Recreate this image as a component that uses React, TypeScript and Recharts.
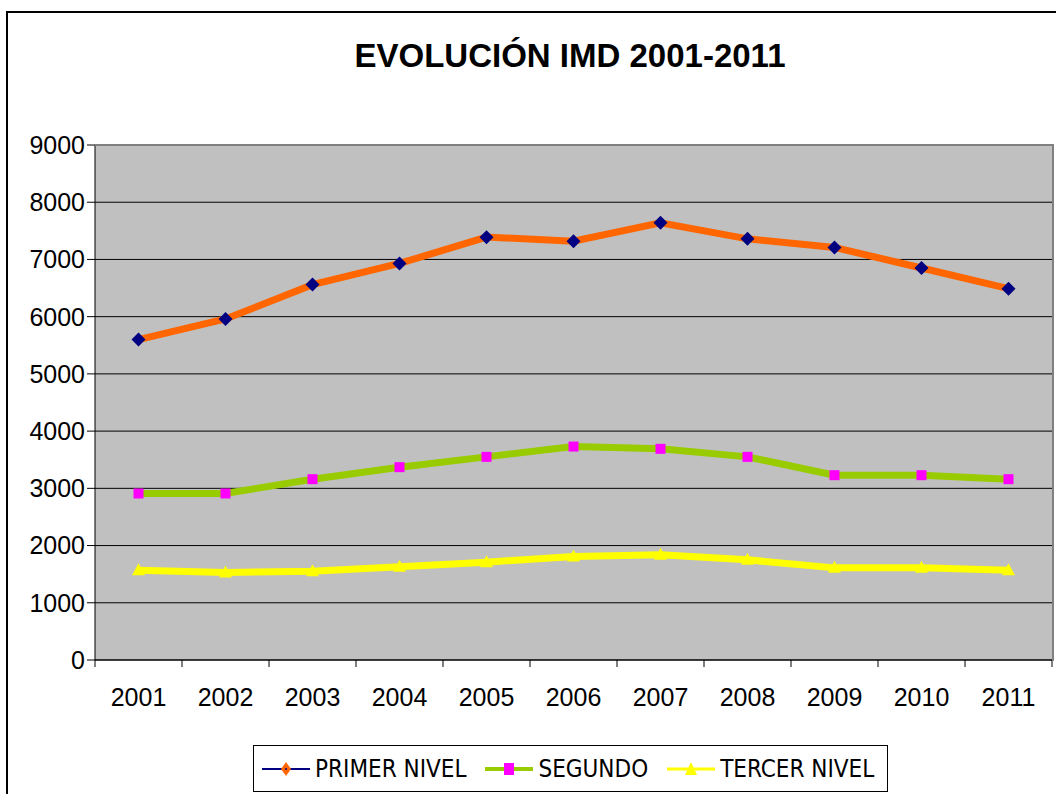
import React from "react";
import { LineChart, Line, XAxis, YAxis, CartesianGrid } from "recharts";

const YEARS = ["2001", "2002", "2003", "2004", "2005", "2006", "2007", "2008", "2009", "2010", "2011"];
const PRIMER = [5600, 5960, 6560, 6930, 7390, 7320, 7640, 7360, 7210, 6850, 6490];
const SEGUNDO = [2910, 2910, 3160, 3370, 3550, 3730, 3690, 3550, 3230, 3230, 3160];
const TERCER = [1570, 1530, 1550, 1630, 1710, 1810, 1840, 1750, 1610, 1610, 1570];
const Y_TICKS = [0, 1000, 2000, 3000, 4000, 5000, 6000, 7000, 8000, 9000];

const SERIES = [
  { key: "primer", name: "PRIMER NIVEL", line: "#ff6600", marker: "diamond", markerColor: "#000080" },
  { key: "segundo", name: "SEGUNDO", line: "#99cc00", marker: "square", markerColor: "#ff00ff" },
  { key: "tercer", name: "TERCER NIVEL", line: "#ffff00", marker: "triangle", markerColor: "#ffff00" },
];

const data = YEARS.map((y, i) => ({
  year: y,
  primer: PRIMER[i],
  segundo: SEGUNDO[i],
  tercer: TERCER[i],
}));

// chart geometry
const W = 1056;
const H = 794;
const PLOT_LEFT = 95;
const PLOT_RIGHT = 1052;
const PLOT_TOP = 145;
const PLOT_BOTTOM = 660;
const HALF = (PLOT_RIGHT - PLOT_LEFT) / YEARS.length / 2;

const FONT = '"Liberation Sans", Arial, sans-serif';
const NARROW = '"Liberation Sans Narrow", "Arial Narrow", "DejaVu Sans Condensed", sans-serif';

function markerPath(kind: string, cx: number, cy: number) {
  if (kind === "diamond") return `M${cx},${cy - 7}L${cx + 7},${cy}L${cx},${cy + 7}L${cx - 7},${cy}Z`;
  if (kind === "square") return `M${cx - 5},${cy - 5}h10v10h-10Z`;
  return `M${cx},${cy - 7}L${cx + 6.5},${cy + 5}L${cx - 6.5},${cy + 5}Z`;
}

const makeDot = (kind: string, color: string) => (props: any) => {
  const { cx, cy, index } = props;
  if (cx == null || cy == null) return <g key={index} />;
  return <path key={index} d={markerPath(kind, cx, cy)} fill={color} />;
};

const XTick = (props: any) => {
  const { x, y, payload, index } = props;
  const last = index === YEARS.length - 1;
  return (
    <g>
      <line x1={x - HALF} y1={y} x2={x - HALF} y2={y + 7} stroke="#000" />
      {last && <line x1={x + HALF} y1={y} x2={x + HALF} y2={y + 7} stroke="#000" />}
      <text x={x} y={y + 46} textAnchor="middle" fontSize={25} fill="#000" fontFamily={FONT}>
        {payload.value}
      </text>
    </g>
  );
};

function LegendIcon({ s }: { s: (typeof SERIES)[number] }) {
  if (s.marker === "diamond") {
    return (
      <svg width={48} height={20}>
        <line x1={0} y1={10} x2={48} y2={10} stroke="#000080" strokeWidth={2} />
        <path d="M24,3L29,10L24,17L19,10Z" fill="#ff6600" />
        <circle cx={24} cy={10} r={1} fill="#000080" />
      </svg>
    );
  }
  if (s.marker === "square") {
    return (
      <svg width={48} height={20}>
        <line x1={0} y1={10} x2={48} y2={10} stroke={s.line} strokeWidth={4} />
        <rect x={19} y={4} width={10} height={12} fill={s.markerColor} />
      </svg>
    );
  }
  return (
    <svg width={48} height={20}>
      <line x1={0} y1={10} x2={48} y2={10} stroke={s.line} strokeWidth={3} />
      <path d="M24,3L30,16L18,16Z" fill={s.markerColor} />
    </svg>
  );
}

export default function App() {
  return (
    <div
      style={{
        position: "absolute",
        left: 0,
        top: 0,
        width: W,
        height: H,
        overflow: "hidden",
        background: "#fff",
        fontFamily: FONT,
      }}
    >
      {/* outer chart border (cut off at right/bottom) */}
      <div
        style={{
          position: "absolute",
          left: 6,
          top: 11,
          width: 1200,
          height: 1000,
          borderLeft: "2px solid #000",
          borderTop: "2px solid #000",
        }}
      />
      <div
        style={{
          position: "absolute",
          left: 570,
          top: 39,
          transform: "translateX(-50%)",
          whiteSpace: "nowrap",
          fontSize: 33,
          lineHeight: "33px",
          fontWeight: "bold",
          color: "#000",
        }}
      >
        EVOLUCIÓN IMD 2001-2011
      </div>
      <div style={{ position: "absolute", left: 0, top: 0 }}>
        <LineChart
          width={W}
          height={H}
          data={data}
          margin={{ top: PLOT_TOP, right: W - PLOT_RIGHT, bottom: H - PLOT_BOTTOM - 60, left: 0 }}
        >
          <CartesianGrid vertical={false} stroke="#000" fill="#c0c0c0" fillOpacity={1} />
          <XAxis
            dataKey="year"
            height={60}
            padding={{ left: HALF, right: HALF }}
            interval={0}
            tickLine={false}
            tickSize={0}
            tickMargin={0}
            axisLine={{ stroke: "#000" }}
            tick={<XTick />}
          />
          <YAxis
            width={PLOT_LEFT}
            domain={[0, 9000]}
            ticks={Y_TICKS}
            interval={0}
            tickSize={8}
            tickMargin={2}
            axisLine={{ stroke: "#000" }}
            tickLine={{ stroke: "#000" }}
            tick={{ fontSize: 25, fill: "#000", fontFamily: FONT }}
          />
          {SERIES.map((s) => (
            <Line
              key={s.key}
              type="linear"
              dataKey={s.key}
              name={s.name}
              stroke={s.line}
              strokeWidth={7}
              dot={makeDot(s.marker, s.markerColor)}
              activeDot={false}
              isAnimationActive={false}
            />
          ))}
        </LineChart>
      </div>
      {/* plot area border top/right */}
      <div
        style={{
          position: "absolute",
          left: PLOT_LEFT,
          top: PLOT_TOP - 1,
          width: PLOT_RIGHT - PLOT_LEFT,
          height: PLOT_BOTTOM - PLOT_TOP,
          borderTop: "2px solid #808080",
          borderRight: "2px solid #808080",
          pointerEvents: "none",
        }}
      />
      {/* legend */}
      <div
        style={{
          position: "absolute",
          left: 253,
          top: 745,
          width: 635,
          height: 47,
          boxSizing: "border-box",
          border: "1px solid #000",
          display: "flex",
          alignItems: "center",
          paddingLeft: 8,
          gap: 19,
        }}
      >
        {SERIES.map((s) => (
          <div key={s.key} style={{ display: "flex", alignItems: "center" }}>
            <LegendIcon s={s} />
            <span style={{ fontFamily: NARROW, fontSize: 24, marginLeft: 5, color: "#000", whiteSpace: "nowrap" }}>
              {s.name}
            </span>
          </div>
        ))}
      </div>
    </div>
  );
}
